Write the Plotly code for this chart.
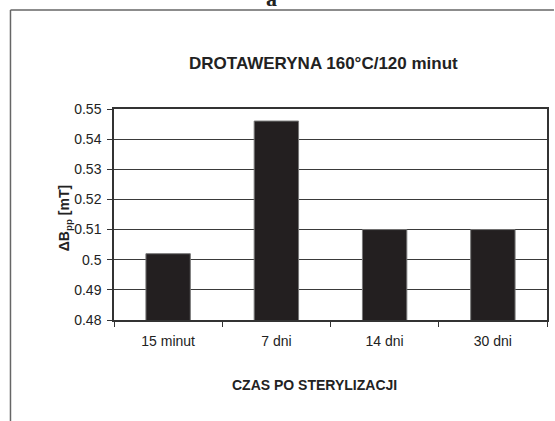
import plotly.graph_objects as go

categories = ["15 minut", "7 dni", "14 dni", "30 dni"]
values = [0.502, 0.546, 0.510, 0.510]
y_ticks = [0.48, 0.49, 0.50, 0.51, 0.52, 0.53, 0.54, 0.55]
y_tick_labels = ["0.48", "0.49", "0.5", "0.51", "0.52", "0.53", "0.54", "0.55"]

W, H = 555, 421
L, R, T, B = 114, 6, 109, 101
pw, ph = W - L - R, H - T - B

def px(x):
    return (x - L) / pw

def py(y):
    return (H - B - y) / ph

fig = go.Figure()
fig.add_trace(go.Bar(
    x=categories, y=values, width=0.41,
    marker=dict(color="#231f20", line=dict(color="#777777", width=1)),
))

fig.update_layout(
    width=W, height=H,
    margin=dict(l=L, r=R, t=T, b=B),
    paper_bgcolor="white", plot_bgcolor="white",
    showlegend=False,
    font=dict(family="Liberation Sans, Arial, sans-serif", color="#222222", size=14),
    xaxis=dict(
        type="category", tickson="boundaries", ticks="outside", ticklen=5,
        tickcolor="#333333", showline=True, linecolor="#333333", linewidth=1.5,
        mirror=True, showgrid=False, tickfont=dict(size=14), ticklabelstandoff=7,
    ),
    yaxis=dict(
        range=[0.48, 0.55], tickvals=y_ticks, ticktext=y_tick_labels,
        ticks="outside", ticklen=5, tickcolor="#333333",
        showline=True, linecolor="#333333", linewidth=1.5, mirror=True,
        showgrid=True, gridcolor="#3a3a3a", gridwidth=1,
        tickfont=dict(size=14), zeroline=False, ticklabelstandoff=3,
    ),
    shapes=[
        dict(type="line", xref="paper", yref="paper", x0=px(10), x1=px(556),
             y0=py(10), y1=py(10), line=dict(color="#666666", width=1.5)),
        dict(type="line", xref="paper", yref="paper", x0=px(10), x1=px(10),
             y0=py(10), y1=py(422), line=dict(color="#666666", width=1.5)),
    ],
    annotations=[
        dict(text="<b>DROTAWERYNA 160°C/120 minut</b>", xref="paper", yref="paper",
             x=px(324), y=py(52), showarrow=False, font=dict(size=17, color="#222222")),
        dict(text="<b>CZAS PO STERYLIZACJI</b>", xref="paper", yref="paper",
             x=px(315), y=py(395), showarrow=False, font=dict(size=14, color="#222222")),
        dict(text="<b>ΔB<sub>pp</sub> [mT]</b>", xref="paper", yref="paper",
             x=px(54), y=py(218), showarrow=False, textangle=-90,
             font=dict(size=14, color="#222222")),
        dict(text="<b>a</b>", xref="paper", yref="paper", x=px(272), y=py(-16),
             showarrow=False,
             font=dict(size=22, color="#222222",
                       family="Liberation Serif, Times New Roman, serif")),
    ],
)

fig.write_html("out.html")
